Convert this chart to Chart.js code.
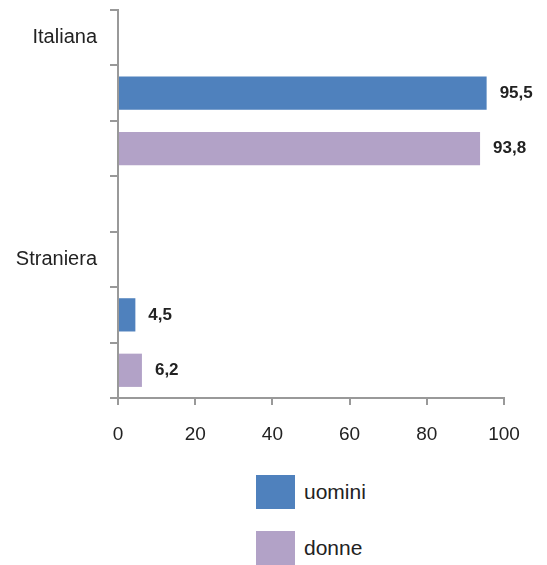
<!DOCTYPE html>
<html>
<head>
<meta charset="utf-8">
<script src="https://cdn.jsdelivr.net/npm/chart.js@4.4.0/dist/chart.umd.min.js"></script>
<style>
  html, body { margin: 0; padding: 0; background: #fff; }
  #wrap { position: relative; width: 547px; height: 565px; }
  #legend { position: absolute; left: 256px; top: 475px; font-family: 'Liberation Sans', Arial, sans-serif; font-size: 21px; color: #222; }
  .item { display: flex; align-items: center; height: 34px; margin-bottom: 22px; }
  .box { width: 39px; height: 34px; margin-right: 9px; }
</style>
</head>
<body>
<div id="wrap">
  <canvas id="chart" width="547" height="460"></canvas>
  <div id="legend"></div>
</div>
<script>
// Data
const groups = ["Italiana", "Straniera"];
const seriesNames = ["uomini", "donne"];
const uomini = [95.5, 4.5];
const donne = [93.8, 6.2];
const xTicks = [0, 20, 40, 60, 80, 100];
const colors = ["#4F81BD", "#B2A2C7"];

const FONT = "'Liberation Sans', Arial, sans-serif";
const series = [uomini, donne];

// one header row per group, one row per series, blank row between groups
const rows = [];
const rowData = series.map(() => []);
groups.forEach((g, gi) => {
  if (gi > 0) {
    rows.push("");
    rowData.forEach(d => d.push(null));
  }
  rows.push(g);
  rowData.forEach(d => d.push(null));
  series.forEach((s, si) => {
    rows.push("");
    rowData.forEach((d, di) => d.push(di === si ? s[gi] : null));
  });
});

const fmt = v => v.toFixed(1).replace(".", ",");

// value labels next to the bars
const valueLabels = {
  id: "valueLabels",
  afterDatasetsDraw(chart) {
    const ctx = chart.ctx;
    ctx.save();
    ctx.font = "bold 17px " + FONT;
    ctx.fillStyle = "#222";
    ctx.textBaseline = "middle";
    chart.data.datasets.forEach((ds, i) => {
      chart.getDatasetMeta(i).data.forEach((bar, j) => {
        const v = ds.data[j];
        if (v == null) return;
        ctx.fillText(fmt(v), bar.x + 13, bar.y);
      });
    });
    ctx.restore();
  }
};

new Chart(document.getElementById("chart"), {
  type: "bar",
  data: {
    labels: rows,
    datasets: seriesNames.map((name, i) => ({
      label: name,
      data: rowData[i],
      backgroundColor: colors[i],
      grouped: false,
      categoryPercentage: 1,
      barPercentage: 0.6
    }))
  },
  options: {
    indexAxis: "y",
    responsive: false,
    animation: false,
    layout: { padding: { top: 10, right: 43, left: 0, bottom: 0 } },
    plugins: { legend: { display: false }, tooltip: { enabled: false } },
    scales: {
      x: {
        min: 0,
        max: 100,
        afterBuildTicks: s => { s.ticks = xTicks.map(v => ({ value: v })); },
        afterFit: s => { s.height = 62; s.paddingLeft = 0; s.paddingRight = 0; },
        border: { color: "#999", width: 2 },
        grid: { drawOnChartArea: false, tickLength: 7, color: "#999", lineWidth: 2 },
        ticks: { font: { family: FONT, size: 19 }, color: "#222", padding: 18 }
      },
      y: {
        afterFit: s => { s.width = 118; s.paddingTop = 0; s.paddingBottom = 0; },
        border: { color: "#999", width: 2 },
        grid: { drawOnChartArea: false, tickLength: 8, color: "#999", lineWidth: 2 },
        ticks: { font: { family: FONT, size: 20 }, color: "#222", padding: 13, autoSkip: false }
      }
    }
  },
  plugins: [valueLabels]
});

// legend
const legend = document.getElementById("legend");
seriesNames.forEach((name, i) => {
  const item = document.createElement("div");
  item.className = "item";
  item.innerHTML = `<div class="box" style="background:${colors[i]}"></div><span>${name}</span>`;
  legend.appendChild(item);
});
</script>
</body>
</html>
